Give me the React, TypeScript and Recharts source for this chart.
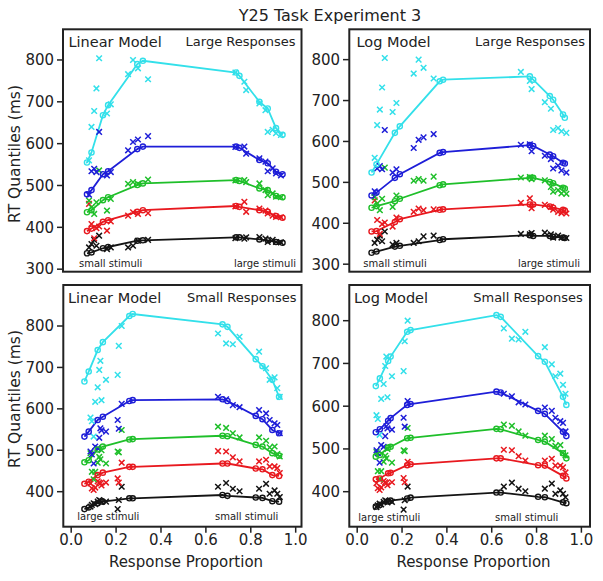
import { ComposedChart, Line, Scatter, XAxis, YAxis } from 'recharts'

// quantile colours: .1 .3 .5 .7 .9
const COLORS = ['#141414', '#e8191f', '#1fbf2a', '#1e1ed8', '#33e0ea']
const FONT = '"DejaVu Sans", Verdana, sans-serif'
const YW = 50
const XH = 32
const RM = 16
const X_TICKS = [0, 0.2, 0.4, 0.6, 0.8, 1.0]
const TOP_Y_TICKS = [300, 400, 500, 600, 700, 800]
const BOT_Y_TICKS = [400, 500, 600, 700, 800]

// observed data, large responses (same in both top panels)
const TOP_DATA_P = [0.078, 0.089, 0.101, 0.111, 0.123, 0.158, 0.175, 0.252, 0.274, 0.296, 0.341,
  0.73, 0.77, 0.778, 0.837, 0.864, 0.874, 0.896, 0.911, 0.933]
const TOP_DATA_RT = [
  [352, 360, 370, 356, 380, 348, 352, 352, 356, 368, 370, 374, 373, 376, 377, 373, 365, 370, 365, 364],
  [456, 408, 374, 398, 402, 392, 414, 428, 436, 432, 434, 450, 461, 437, 445, 440, 433, 428, 425, 424],
  [464, 448, 432, 460, 536, 440, 468, 504, 508, 504, 514, 512, 513, 508, 505, 489, 477, 481, 473, 472],
  [478, 534, 540, 532, 628, 524, 532, 584, 604, 610, 618, 592, 593, 576, 565, 557, 534, 541, 529, 524],
  [560, 640, 678, 732, 804, 672, 694, 766, 800, 780, 754, 770, 748, 728, 696, 680, 628, 633, 625, 621],
]

// observed data, small responses (same in both bottom panels)
const BOT_DATA_P = [0.086, 0.092, 0.1, 0.107, 0.118, 0.125, 0.13, 0.135, 0.155, 0.207, 0.212, 0.225,
  0.654, 0.69, 0.72, 0.75, 0.837, 0.868, 0.884, 0.906, 0.918, 0.929]
const BOT_DATA_RT = [
  [364, 368, 372, 370, 376, 380, 378, 375, 376, 358, 380, 412, 412, 421, 407, 401, 407, 419, 395, 403, 395, 387],
  [420, 408, 404, 410, 425, 422, 420, 415, 422, 432, 422, 470, 498, 497, 483, 473, 473, 477, 461, 461, 457, 445],
  [493, 448, 430, 448, 470, 484, 478, 500, 468, 497, 495, 549, 557, 554, 541, 531, 531, 523, 507, 509, 491, 485],
  [497, 490, 468, 509, 505, 530, 553, 548, 545, 573, 552, 612, 629, 623, 609, 604, 597, 589, 573, 565, 561, 541],
  [579, 570, 533, 617, 652, 694, 716, 621, 670, 682, 752, 800, 782, 758, 756, 774, 738, 698, 670, 676, 650, 629],
]

// model predictions
const LIN_LARGE_P = [0.069, 0.089, 0.14, 0.163, 0.293, 0.318, 0.733, 0.748, 0.837, 0.874, 0.911, 0.94]
const LIN_LARGE_RT = [
  [338, 340, 350, 353, 368, 369, 376, 376, 371, 369, 365, 363],
  [391, 397, 413, 417, 437, 441, 451, 449, 441, 437, 427, 423],
  [436, 441, 465, 472, 501, 505, 513, 511, 493, 489, 475, 472],
  [479, 489, 527, 534, 587, 593, 593, 590, 561, 553, 533, 527],
  [555, 579, 668, 692, 790, 798, 770, 762, 700, 684, 637, 621],
]
const LOG_LARGE_P = [0.064, 0.086, 0.168, 0.19, 0.368, 0.383, 0.77, 0.785, 0.859, 0.874, 0.918, 0.926]
const LOG_LARGE_RT = [
  [328, 331, 343, 345, 359, 361, 371, 369, 369, 367, 365, 364],
  [380, 381, 403, 410, 433, 434, 446, 446, 441, 438, 433, 431],
  [438, 442, 454, 460, 493, 495, 511, 511, 501, 498, 487, 485],
  [468, 475, 511, 520, 572, 574, 591, 589, 568, 564, 548, 546],
  [524, 544, 621, 637, 747, 751, 759, 751, 711, 702, 666, 658],
]
const LIN_SMALL_P = [0.059, 0.078, 0.118, 0.141, 0.259, 0.274, 0.674, 0.696, 0.822, 0.852, 0.896, 0.926]
const LIN_SMALL_RT = [
  [358, 362, 372, 376, 384, 384, 392, 390, 386, 385, 377, 376],
  [419, 424, 440, 446, 460, 460, 468, 468, 456, 454, 440, 438],
  [471, 476, 502, 509, 526, 527, 535, 534, 513, 509, 493, 487],
  [533, 545, 573, 581, 619, 621, 623, 619, 583, 575, 549, 541],
  [666, 690, 742, 761, 824, 829, 804, 798, 720, 703, 670, 629],
]
const LOG_SMALL_P = [0.083, 0.101, 0.138, 0.149, 0.223, 0.238, 0.621, 0.64, 0.807, 0.837, 0.918, 0.933]
const LOG_SMALL_RT = [
  [365, 369, 377, 379, 384, 386, 398, 398, 388, 387, 375, 373],
  [429, 431, 443, 444, 462, 464, 478, 478, 462, 461, 437, 431],
  [482, 486, 503, 505, 525, 526, 547, 546, 521, 517, 490, 478],
  [539, 546, 566, 572, 603, 605, 634, 632, 589, 582, 540, 530],
  [647, 665, 706, 716, 774, 778, 813, 809, 717, 704, 622, 603],
]

type Box = { x: number; y: number; w: number; h: number }

const xMark = (color: string) => (props: any) => {
  const { cx, cy } = props
  if (cx == null || cy == null) return <g />
  const s = 2.8
  return (
    <path
      d={`M${cx - s},${cy - s}L${cx + s},${cy + s}M${cx + s},${cy - s}L${cx - s},${cy + s}`}
      stroke={color} strokeWidth={1.5} fill="none"
    />
  )
}

function Panel({ box, xDomain, yDomain, yTicks, showXLabels, modelP, modelRT, dataP, dataRT }: {
  box: Box
  xDomain: [number, number]
  yDomain: [number, number]
  yTicks: number[]
  showXLabels: boolean
  modelP: number[]
  modelRT: number[][]
  dataP: number[]
  dataRT: number[][]
}) {
  return (
    <div style={{ position: 'absolute', left: box.x - YW, top: box.y }}>
      <ComposedChart width={YW + box.w + RM} height={box.h + XH} margin={{ top: 0, right: RM, bottom: 0, left: 0 }}>
        <XAxis
          type="number" dataKey="x" domain={xDomain} allowDataOverflow ticks={X_TICKS}
          tickFormatter={(v: number) => v.toFixed(1)}
          tick={showXLabels ? { fill: '#222', fontSize: 15, fontFamily: FONT } : false}
          tickSize={6} tickMargin={2} axisLine={false}
          tickLine={{ stroke: '#222', strokeWidth: 1.5 }} height={XH}
        />
        <YAxis
          type="number" dataKey="y" domain={yDomain} allowDataOverflow ticks={yTicks}
          tick={{ fill: '#222', fontSize: 15, fontFamily: FONT }}
          tickSize={6} tickMargin={3} axisLine={false}
          tickLine={{ stroke: '#222', strokeWidth: 1.5 }} width={YW}
        />
        {dataRT.map((rts, q) => (
          <Scatter
            key={`d${q}`}
            data={dataP.map((p, i) => ({ x: p, y: rts[i] }))}
            shape={xMark(COLORS[q])}
            isAnimationActive={false}
          />
        ))}
        {modelRT.map((rts, q) => (
          <Line
            key={`m${q}`}
            data={modelP.map((p, i) => ({ x: p, y: rts[i] }))}
            dataKey="y" type="linear" stroke={COLORS[q]} strokeWidth={1.8}
            dot={{ r: 2.6, stroke: COLORS[q], strokeWidth: 1.4, fill: 'none' }}
            activeDot={false} isAnimationActive={false}
          />
        ))}
      </ComposedChart>
    </div>
  )
}

const TL: Box = { x: 63, y: 29.3, w: 238.5, h: 242.4 }
const TR: Box = { x: 349.3, y: 29.3, w: 240.7, h: 242.4 }
const BL: Box = { x: 63.3, y: 285, w: 238.2, h: 241.7 }
const BR: Box = { x: 349.3, y: 285, w: 240.7, h: 241.7 }

export default function App() {
  const txt = { fill: '#222', fontFamily: FONT }
  return (
    <div style={{ position: 'absolute', left: 0, top: 0, width: 603, height: 581, background: '#fff' }}>
      <Panel box={TL} xDomain={[-0.0379, 1.0245]} yDomain={[294.7, 874]} yTicks={TOP_Y_TICKS}
        showXLabels={false} modelP={LIN_LARGE_P} modelRT={LIN_LARGE_RT} dataP={TOP_DATA_P} dataRT={TOP_DATA_RT} />
      <Panel box={TR} xDomain={[-0.0366, 1.037]} yDomain={[282.4, 874.9]} yTicks={TOP_Y_TICKS}
        showXLabels={false} modelP={LOG_LARGE_P} modelRT={LOG_LARGE_RT} dataP={TOP_DATA_P} dataRT={TOP_DATA_RT} />
      <Panel box={BL} xDomain={[-0.0365, 1.0245]} yDomain={[315.5, 899]} yTicks={BOT_Y_TICKS}
        showXLabels modelP={LIN_SMALL_P} modelRT={LIN_SMALL_RT} dataP={BOT_DATA_P} dataRT={BOT_DATA_RT} />
      <Panel box={BR} xDomain={[-0.0366, 1.037]} yDomain={[318.1, 883.5]} yTicks={BOT_Y_TICKS}
        showXLabels modelP={LOG_SMALL_P} modelRT={LOG_SMALL_RT} dataP={BOT_DATA_P} dataRT={BOT_DATA_RT} />
      <svg width={603} height={581} style={{ position: 'absolute', left: 0, top: 0, pointerEvents: 'none' }}>
        {[TL, TR, BL, BR].map((b, i) => (
          <rect key={i} x={b.x} y={b.y} width={b.w} height={b.h} fill="none" stroke="#222" strokeWidth={2} />
        ))}
        <text x={330} y={15} textAnchor="middle" dominantBaseline="central" fontSize={16} {...txt}>Y25 Task Experiment 3</text>
        <text transform="translate(15,154) rotate(-90)" textAnchor="middle" dominantBaseline="central" fontSize={15.5} {...txt}>RT Quantiles (ms)</text>
        <text transform="translate(15,399) rotate(-90)" textAnchor="middle" dominantBaseline="central" fontSize={15.5} {...txt}>RT Quantiles (ms)</text>
        <text x={186} y={562} textAnchor="middle" dominantBaseline="central" fontSize={15} {...txt}>Response Proportion</text>
        <text x={473.5} y={562} textAnchor="middle" dominantBaseline="central" fontSize={15} {...txt}>Response Proportion</text>

        <text x={68.5} y={41.5} dominantBaseline="central" fontSize={14.5} {...txt}>Linear Model</text>
        <text x={295.5} y={41.5} textAnchor="end" dominantBaseline="central" fontSize={13} {...txt}>Large Responses</text>
        <text x={356.5} y={41.5} dominantBaseline="central" fontSize={14.5} {...txt}>Log Model</text>
        <text x={585} y={41.5} textAnchor="end" dominantBaseline="central" fontSize={13} {...txt}>Large Responses</text>
        <text x={68} y={297.5} dominantBaseline="central" fontSize={14.5} {...txt}>Linear Model</text>
        <text x={296.5} y={297.5} textAnchor="end" dominantBaseline="central" fontSize={13} {...txt}>Small Responses</text>
        <text x={354} y={297.5} dominantBaseline="central" fontSize={14.5} {...txt}>Log Model</text>
        <text x={582.7} y={297.5} textAnchor="end" dominantBaseline="central" fontSize={13} {...txt}>Small Responses</text>

        <text x={79} y={263.3} dominantBaseline="central" fontSize={10} {...txt}>small stimuli</text>
        <text x={296} y={263.3} textAnchor="end" dominantBaseline="central" fontSize={10} {...txt}>large stimuli</text>
        <text x={363.3} y={263.3} dominantBaseline="central" fontSize={10} {...txt}>small stimuli</text>
        <text x={580} y={263.3} textAnchor="end" dominantBaseline="central" fontSize={10} {...txt}>large stimuli</text>
        <text x={77.3} y={516.7} dominantBaseline="central" fontSize={10} {...txt}>large stimuli</text>
        <text x={278.3} y={516.7} textAnchor="end" dominantBaseline="central" fontSize={10} {...txt}>small stimuli</text>
        <text x={358.3} y={517.5} dominantBaseline="central" fontSize={10} {...txt}>large stimuli</text>
        <text x={558.3} y={517.5} textAnchor="end" dominantBaseline="central" fontSize={10} {...txt}>small stimuli</text>
      </svg>
    </div>
  )
}
